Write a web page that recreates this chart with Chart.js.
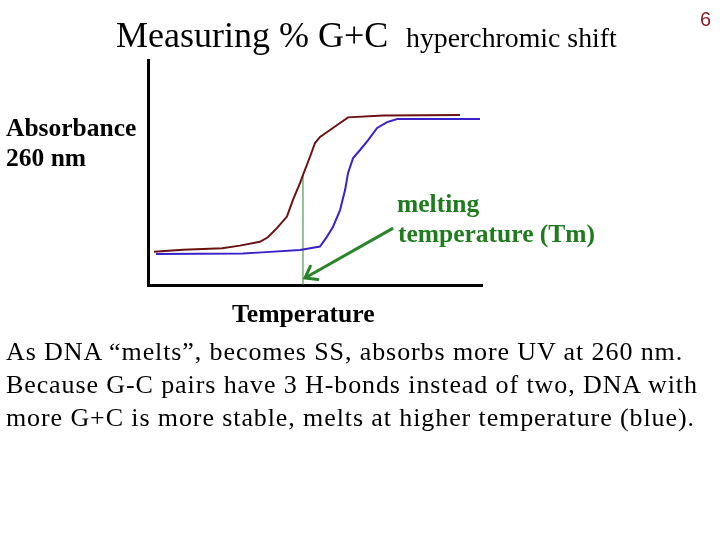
<!DOCTYPE html>
<html>
<head>
<meta charset="utf-8">
<title>Measuring % G+C</title>
<script src="https://cdn.jsdelivr.net/npm/chart.js@4"></script>
<style>
  html, body { margin: 0; padding: 0; background: #fff; }
  #page { position: relative; width: 720px; height: 540px; overflow: hidden; }
  #chart { position: absolute; left: 0; top: 0; }
  .txt { position: absolute; white-space: nowrap; line-height: 1; font-family: "Liberation Serif", "Times New Roman", serif; }
  .bold { font-weight: bold; }
  .green { color: #1e7b1e; }
</style>
</head>
<body>
<div id="page">
  <canvas id="chart" width="720" height="540"></canvas>
  <div class="txt" style="left:116px; top:17px; font-size:36px;">Measuring % G+C</div>
  <div class="txt" style="left:406px; top:24px; font-size:27.8px;">hyperchromic shift</div>
  <div class="txt" style="left:700px; top:9px; font-size:20px; color:#8c1c22; font-family:'Liberation Sans', Arial, sans-serif;">6</div>
  <div class="txt bold" style="left:6px; top:115px; font-size:25.5px;">Absorbance</div>
  <div class="txt bold" style="left:6px; top:145px; font-size:25.5px;">260 nm</div>
  <div class="txt bold green" style="left:397px; top:191px; font-size:25.5px;">melting</div>
  <div class="txt bold green" style="left:398px; top:221px; font-size:25.5px;">temperature (Tm)</div>
  <div class="txt bold" style="left:232px; top:301px; font-size:25.7px;">Temperature</div>
  <div class="txt" style="left:6px; top:335px; font-size:26px; line-height:33px; letter-spacing:0.9px;">
    As DNA “melts”, becomes SS, absorbs more UV at 260 nm.<br>
    Because G-C pairs have 3 H-bonds instead of two, DNA with<br>
    more G+C is more stable, melts at higher temperature (blue).
  </div>
</div>
<script>
/* global Chart */

// low G+C DNA (red curve) - temperature, absorbance
const redTemp = [1.8, 10.5, 22.2, 27.5, 33.5, 35.9, 38.6, 41.6, 43.4, 45.5, 46.4, 48.5, 50.0, 51.5, 54.5, 57.5, 59.9, 70.4, 93.4];
const redAbs  = [14.8, 15.7, 16.3, 17.5, 19.2, 21.2, 25.3, 30.4, 37.8, 45.3, 48.9, 57.0, 63.1, 65.8, 68.9, 72.0, 74.5, 75.3, 75.6];

// high G+C DNA (blue curve)
const blueTemp = [2.4, 28.4, 34.1, 45.5, 51.5, 53.6, 55.4, 57.5, 59.0, 59.9, 61.4, 63.5, 65.9, 68.6, 71.6, 74.6, 99.4];
const blueAbs  = [13.8, 14.0, 14.5, 15.6, 17.1, 21.5, 25.9, 33.3, 42.2, 49.8, 56.4, 60.0, 64.4, 69.8, 72.4, 73.8, 73.8];

// Tm marker of the red curve and the pointer arrow (from label to Tm)
const tmTemp = [46.4, 46.4];
const tmAbs = [0, 48.9];
const arrowTemp = [73.4, 47.0];
const arrowAbs = [25.3, 3.1];

const toPoints = (xs, ys) => xs.map((x, i) => ({ x: x, y: ys[i] }));

const green = '#2a852a';

// draws an open arrow head at the last point of the arrow dataset
const arrowHead = {
    id: 'arrowHead',
    afterDatasetsDraw(chart) {
        const meta = chart.getDatasetMeta(3);
        const pts = meta.data;
        if (pts.length < 2) return;
        const a = pts[pts.length - 2];
        const b = pts[pts.length - 1];
        const ang = Math.atan2(b.y - a.y, b.x - a.x);
        const len = 13;
        const spread = Math.PI / 5;
        const ctx = chart.ctx;
        ctx.save();
        ctx.strokeStyle = green;
        ctx.lineWidth = 3;
        ctx.lineCap = 'round';
        ctx.beginPath();
        ctx.moveTo(b.x - len * Math.cos(ang - spread), b.y - len * Math.sin(ang - spread));
        ctx.lineTo(b.x, b.y);
        ctx.lineTo(b.x - len * Math.cos(ang + spread), b.y - len * Math.sin(ang + spread));
        ctx.stroke();
        ctx.restore();
    }
};

const axisOpts = {
    min: 0,
    max: 100,
    grid: { display: false, drawTicks: false, tickLength: 0 },
    ticks: { display: false },
    border: { display: true, color: '#000', width: 3 }
};

new Chart(document.getElementById('chart'), {
    type: 'scatter',
    data: {
        datasets: [
            {
                label: 'low G+C',
                data: toPoints(redTemp, redAbs),
                showLine: true,
                borderColor: '#6a1212',
                borderWidth: 2,
                pointRadius: 0,
                tension: 0
            },
            {
                label: 'high G+C',
                data: toPoints(blueTemp, blueAbs),
                showLine: true,
                borderColor: '#3a22c8',
                borderWidth: 2,
                pointRadius: 0,
                tension: 0
            },
            {
                label: 'Tm',
                data: toPoints(tmTemp, tmAbs),
                showLine: true,
                borderColor: green,
                borderWidth: 1,
                pointRadius: 0
            },
            {
                label: 'arrow',
                data: toPoints(arrowTemp, arrowAbs),
                showLine: true,
                borderColor: green,
                borderWidth: 3,
                pointRadius: 0
            }
        ]
    },
    options: {
        responsive: false,
        animation: false,
        layout: { padding: { left: 148, top: 60, right: 238, bottom: 255 } },
        plugins: {
            legend: { display: false },
            tooltip: { enabled: false }
        },
        scales: {
            x: axisOpts,
            y: axisOpts
        }
    },
    plugins: [arrowHead]
});
</script>
</body>
</html>
